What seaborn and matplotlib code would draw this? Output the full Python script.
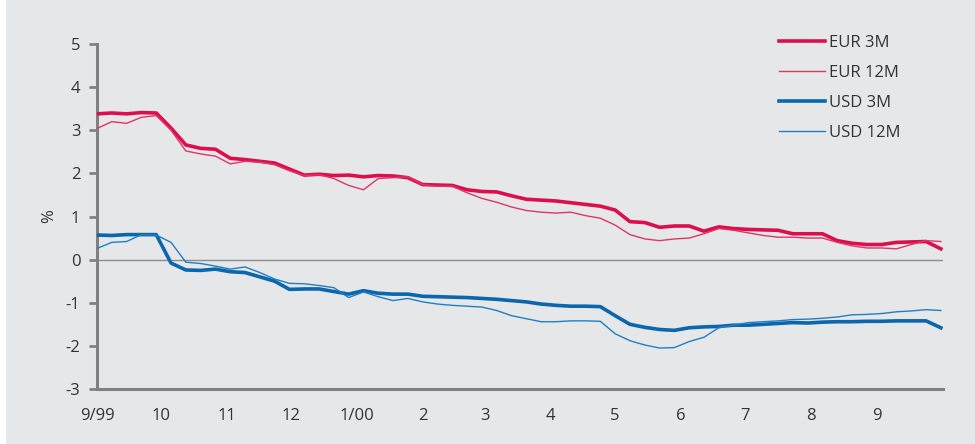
import numpy as np
import pandas as pd
import matplotlib
matplotlib.use("Agg")
import matplotlib.pyplot as plt
from matplotlib.patches import Rectangle
import seaborn as sns

# Weekly readings, 1 Sep 1999 - 1 Oct 2000 (%)
eur_3m = [3.38, 3.40, 3.38, 3.41, 3.40, 3.05, 2.66, 2.58, 2.56, 2.35,
          2.32, 2.28, 2.24, 2.10, 1.96, 1.98, 1.95, 1.96, 1.92, 1.95,
          1.94, 1.90, 1.74, 1.73, 1.72, 1.62, 1.58, 1.57, 1.48, 1.40,
          1.38, 1.36, 1.32, 1.28, 1.24, 1.15, 0.88, 0.86, 0.75, 0.78,
          0.78, 0.66, 0.76, 0.72, 0.70, 0.69, 0.68, 0.60, 0.60, 0.60,
          0.44, 0.38, 0.35, 0.35, 0.40, 0.41, 0.42, 0.25]
eur_12m = [3.04, 3.20, 3.16, 3.30, 3.34, 3.00, 2.52, 2.45, 2.40, 2.22,
           2.28, 2.26, 2.20, 2.06, 1.95, 1.97, 1.88, 1.72, 1.62, 1.88,
           1.90, 1.92, 1.74, 1.70, 1.70, 1.55, 1.42, 1.33, 1.22, 1.14,
           1.10, 1.08, 1.10, 1.02, 0.96, 0.80, 0.58, 0.48, 0.44, 0.48,
           0.50, 0.60, 0.72, 0.68, 0.62, 0.56, 0.52, 0.52, 0.50, 0.50,
           0.40, 0.32, 0.27, 0.27, 0.25, 0.35, 0.44, 0.42]
usd_3m = [0.57, 0.56, 0.58, 0.58, 0.58, -0.08, -0.24, -0.25, -0.22, -0.28,
          -0.30, -0.40, -0.50, -0.69, -0.68, -0.68, -0.74, -0.80, -0.72, -0.78,
          -0.80, -0.80, -0.85, -0.86, -0.87, -0.88, -0.90, -0.92, -0.95, -0.98,
          -1.03, -1.06, -1.08, -1.08, -1.09, -1.30, -1.50, -1.57, -1.62, -1.64,
          -1.58, -1.56, -1.55, -1.52, -1.52, -1.50, -1.48, -1.46, -1.47, -1.45,
          -1.44, -1.44, -1.43, -1.43, -1.42, -1.42, -1.42, -1.58]
usd_12m = [0.26, 0.40, 0.42, 0.58, 0.57, 0.40, -0.06, -0.09, -0.15, -0.22,
           -0.17, -0.30, -0.45, -0.55, -0.56, -0.60, -0.65, -0.88, -0.75, -0.86,
           -0.95, -0.90, -0.98, -1.03, -1.06, -1.08, -1.10, -1.18, -1.30, -1.37,
           -1.44, -1.44, -1.42, -1.42, -1.43, -1.72, -1.88, -1.98, -2.05, -2.04,
           -1.90, -1.80, -1.58, -1.52, -1.46, -1.44, -1.42, -1.39, -1.38, -1.36,
           -1.33, -1.28, -1.27, -1.25, -1.21, -1.19, -1.16, -1.18]

series_names = ["EUR 3M", "EUR 12M", "USD 3M", "USD 12M"]
month_labels = ["9/99", "10", "11", "12", "1/00", "2", "3", "4", "5", "6", "7", "8", "9"]
y_ticks = [-3, -2, -1, 0, 1, 2, 3, 4, 5]

dates = pd.date_range("1999-09-01", "2000-10-01", periods=len(eur_3m))
df = pd.DataFrame({"date": dates, "EUR 3M": eur_3m, "EUR 12M": eur_12m,
                   "USD 3M": usd_3m, "USD 12M": usd_12m})

colors = {"EUR 3M": "#dc0f4c", "EUR 12M": "#e03566",
          "USD 3M": "#0a67ad", "USD 12M": "#1f7fc4"}
widths = {"EUR 3M": 2.6, "EUR 12M": 1.0, "USD 3M": 2.6, "USD 12M": 1.0}

bg = "#e6e7e9"
fig = plt.figure(figsize=(9.75, 4.44), dpi=100, facecolor="white")
fig.patches.append(Rectangle((6 / 975, 0), 1, 1, transform=fig.transFigure,
                             facecolor=bg, edgecolor="none", zorder=-1))
ax = fig.add_axes([97 / 975, 55 / 444, 846 / 975, 345 / 444])
ax.set_facecolor(bg)

ax.axhline(0, color="#8c8c8c", lw=1.0, zorder=1)
for name in series_names:
    sns.lineplot(data=df, x="date", y=name, ax=ax, color=colors[name],
                 linewidth=widths[name], label=name, zorder=3)

ax.set_xlim(pd.Timestamp("1999-09-01"), pd.Timestamp("2000-10-02"))
ax.set_ylim(-3, 5)
ax.set_yticks(y_ticks)
ax.set_yticklabels([str(t) for t in y_ticks])
month_ticks = pd.date_range("1999-09-01", periods=len(month_labels), freq="MS")
ax.set_xticks(month_ticks)
ax.set_xticklabels(month_labels)

for s in ["top", "right"]:
    ax.spines[s].set_visible(False)
for s in ["left", "bottom"]:
    ax.spines[s].set_color("#808080")
    ax.spines[s].set_linewidth(2.2)
ax.tick_params(axis="y", length=6, width=2, color="#808080", pad=6,
               labelsize=12, labelcolor="#333333")
ax.tick_params(axis="x", length=0, pad=14, labelsize=12, labelcolor="#333333")
for lab in ax.get_xticklabels() + ax.get_yticklabels():
    lab.set_family("Open Sans")

ax.set_xlabel("")
ax.set_ylabel("%", fontsize=12, color="#333333", family="Open Sans", labelpad=6)

leg = ax.legend(loc="upper left", bbox_to_anchor=(772 / 975, 1 - 28 / 444),
                bbox_transform=fig.transFigure, frameon=False,
                handlelength=2.75, handletextpad=0.25, labelspacing=0.85,
                borderaxespad=0, prop={"family": "Open Sans", "size": 12})
for t in leg.get_texts():
    t.set_color("#333333")

fig.savefig("out.png", dpi=100, facecolor=fig.get_facecolor())
